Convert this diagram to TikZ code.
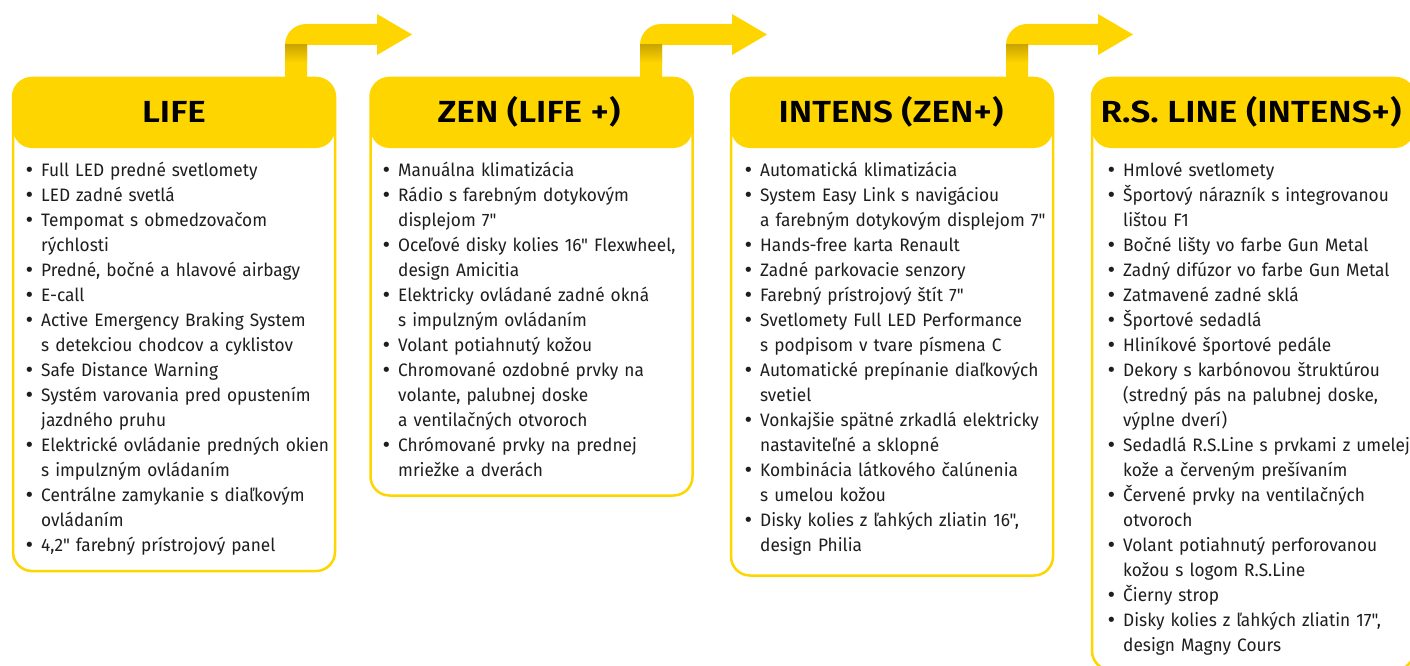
\documentclass[tikz,border=0pt]{standalone}
\usepackage{fontspec}
\setmainfont{Fira Sans}[Ligatures=TeXOff, FakeStretch=0.96]
\newfontfamily\headfont{Fira Sans SemiBold}[Ligatures=TeXOff, FakeStretch=1.15]
\newfontfamily\bulletfont{DejaVu Sans}
\definecolor{ryellow}{HTML}{FFD500}
\definecolor{rdark}{HTML}{CCA600}
\definecolor{rtext}{HTML}{1E1E1E}
\newcommand\fstrut{\rule{0pt}{18pt}}
\newcommand\bitem[1]{\par\noindent\hangindent=16pt\hangafter=1\makebox[16pt][l]{\fstrut\hspace{-1pt}{\bulletfont •}}#1}
\newcommand\flowarrow[1]{%
  \begin{scope}[xshift=#1pt]
    \fill[ryellow] (0,80) -- (0,45) arc[start angle=180,end angle=270,radius=21] -- (92,24) -- (92,14) -- (127,34.5) -- (92,55) -- (92,45) -- (22,45) -- (22,80) -- cycle;
    \shade[top color=rdark, bottom color=ryellow] (0,45) rectangle (22,63);
  \end{scope}}
\begin{document}
\begin{tikzpicture}[x=1pt,y=-1pt,
  card/.style={rectangle, rounded corners=19pt, draw=ryellow, line width=2.5pt, fill=white,
    minimum width=322pt, inner sep=0pt,
    path picture={\fill[ryellow] (path picture bounding box.north west) rectangle ([yshift=-70pt]path picture bounding box.north east);}},
  head/.style={anchor=base, font=\headfont\fontsize{30.5}{36}\selectfont, text=black, inner sep=0pt},
  body/.style={anchor=north west, text width=330pt, align=left, inner sep=0pt,
    font=\fontsize{18}{25}\selectfont, text=rtext},
]
\useasboundingbox (0,0) rectangle (1410,666);
\fill[white] (0,0) rectangle (1410,666);

\flowarrow{285}
\flowarrow{640}
\flowarrow{1006}

\node[card, minimum height=493pt] (c1) at (174,324.5) {};
\node[card, minimum height=417.5pt] (c2) at (531.5,286.75) {};
\node[card, minimum height=497.5pt] (c3) at (892,326.75) {};
\node[card, minimum height=592pt] (c4) at (1253,374) {};

\node[head] (h1) at (174,123) {LIFE};
\node[head] (h2) at (529,123) {ZEN (LIFE +)};
\node[head] (h3) at (891,123) {INTENS (ZEN+)};
\node[head] (h4) at (1251,123) {R.S. LINE (INTENS+)};

\node[body] (b1) at (25,151) {%
\bitem{Full LED predné svetlomety}
\bitem{LED zadné svetlá}
\bitem{Tempomat s obmedzovačom\newline rýchlosti}
\bitem{Predné, bočné a hlavové airbagy}
\bitem{E-call}
\bitem{Active Emergency Braking System\newline s detekciou chodcov a cyklistov}
\bitem{Safe Distance Warning}
\bitem{Systém varovania pred opustením\newline jazdného pruhu}
\bitem{Elektrické ovládanie predných okien\newline s impulzným ovládaním}
\bitem{Centrálne zamykanie s diaľkovým\newline ovládaním}
\bitem{4,2" farebný prístrojový panel}\par};

\node[body] (b2) at (382,151) {%
\bitem{Manuálna klimatizácia}
\bitem{Rádio s farebným dotykovým\newline displejom 7"}
\bitem{Oceľové disky kolies 16" Flexwheel,\newline design Amicitia}
\bitem{Elektricky ovládané zadné okná\newline s impulzným ovládaním}
\bitem{Volant potiahnutý kožou}
\bitem{Chromované ozdobné prvky na\newline volante, palubnej doske\newline a ventilačných otvoroch}
\bitem{Chrómované prvky na prednej\newline mriežke a dverách}\par};

\node[body] (b3) at (744,151) {%
\bitem{Automatická klimatizácia}
\bitem{System Easy Link s navigáciou\newline a farebným dotykovým displejom 7"}
\bitem{Hands-free karta Renault}
\bitem{Zadné parkovacie senzory}
\bitem{Farebný prístrojový štít 7"}
\bitem{Svetlomety Full LED Performance\newline s podpisom v tvare písmena C}
\bitem{Automatické prepínanie diaľkových\newline svetiel}
\bitem{Vonkajšie spätné zrkadlá elektricky\newline nastaviteľné a sklopné}
\bitem{Kombinácia látkového čalúnenia\newline s umelou kožou}
\bitem{Disky kolies z ľahkých zliatin 16",\newline design Philia}\par};

\node[body] (b4) at (1107,151) {%
\bitem{Hmlové svetlomety}
\bitem{Športový nárazník s integrovanou\newline lištou F1}
\bitem{Bočné lišty vo farbe Gun Metal}
\bitem{Zadný difúzor vo farbe Gun Metal}
\bitem{Zatmavené zadné sklá}
\bitem{Športové sedadlá}
\bitem{Hliníkové športové pedále}
\bitem{Dekory s karbónovou štruktúrou\newline (stredný pás na palubnej doske,\newline výplne dverí)}
\bitem{Sedadlá R.S.Line s prvkami z umelej\newline kože a červeným prešívaním}
\bitem{Červené prvky na ventilačných\newline otvoroch}
\bitem{Volant potiahnutý perforovanou\newline kožou s logom R.S.Line}
\bitem{Čierny strop}
\bitem{Disky kolies z ľahkých zliatin 17",\newline design Magny Cours}\par};
\end{tikzpicture}
\end{document}
